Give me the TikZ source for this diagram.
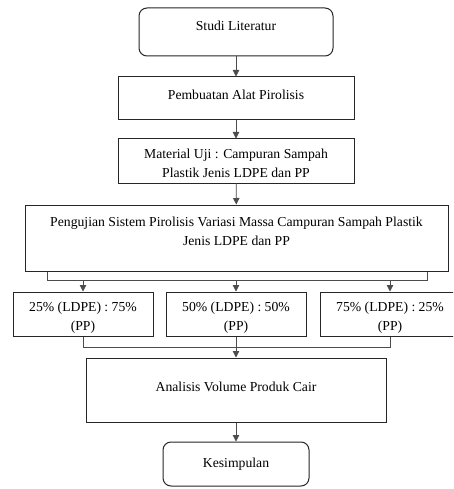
\documentclass[tikz,border=0pt]{standalone}
\usepackage{fontspec}
\setmainfont{Liberation Serif}
\usetikzlibrary{arrows.meta}
\begin{document}
\begin{tikzpicture}[x=1pt,y=-1pt,
  font=\fontsize{13.7}{18.5}\selectfont,
  box/.style={draw=black!85, line width=1pt, inner sep=0pt},
  rbox/.style={box, rounded corners=8pt},
  conn/.style={draw=black!70, line width=0.8pt},
  arr/.style={conn, -{Triangle[width=6.5pt,length=6.5pt]}}]
\clip (0,0) rectangle (453,489);
\fill[white] (0,0) rectangle (453,489);
% nodes
\node[rbox, minimum width=194, minimum height=48, text height=22.5pt, text depth=25.5pt] (studi) at (236,32) {Studi Literatur};
\node[box, minimum width=236, minimum height=43, text height=12pt, text depth=9pt] (pemb) at (236,98.5) {Pembuatan Alat Pirolisis};
\node[box, minimum width=236, minimum height=44, text height=20pt, text depth=6.2pt] (mat) at (236,161) {\begin{tabular}{@{}c@{}}Material Uji : Campuran Sampah\\Plastik Jenis LDPE dan PP\end{tabular}};
\node[box, minimum width=423, minimum height=66, text height=10pt, text depth=14.2pt] (peng) at (236.5,238) {\begin{tabular}{@{}c@{}}Pengujian Sistem Pirolisis Variasi Massa Campuran Sampah Plastik\\Jenis LDPE dan PP\end{tabular}};
\node[box, minimum width=140, minimum height=44, text height=20pt, text depth=6.2pt] (b1) at (83,314) {\begin{tabular}{@{}c@{}}25\% (LDPE) : 75\%\\(PP)\end{tabular}};
\node[box, minimum width=140, minimum height=44, text height=20pt, text depth=6.2pt] (b2) at (236,314) {\begin{tabular}{@{}c@{}}50\% (LDPE) : 50\%\\(PP)\end{tabular}};
\node[box, minimum width=140, minimum height=44, text height=20pt, text depth=6.2pt] (b3) at (390,314) {\begin{tabular}{@{}c@{}}75\% (LDPE) : 25\%\\(PP)\end{tabular}};
\node[box, minimum width=300, minimum height=64, text height=12pt, text depth=9pt] (anal) at (236,390) {Analisis Volume Produk Cair};
\node[rbox, minimum width=146, minimum height=44] (kes) at (236,464) {Kesimpulan};
% coordinates
\coordinate (tl) at (47,280);
\coordinate (tr) at (427,280);
\coordinate (bl) at (83,347);
\coordinate (br) at (390,347);
% connectors
\draw[arr] (studi) -- (pemb);
\draw[arr] (pemb) -- (mat);
\draw[arr] (mat) -- (peng);
\draw[conn] (peng.south -| tl) -- (tl) -- (tr) -- (peng.south -| tr);
\draw[arr] (tl -| b1.north) -- (b1.north);
\draw[arr] (tl -| b2.north) -- (b2.north);
\draw[arr] (tl -| b3.north) -- (b3.north);
\draw[conn] (b1.south) -- (bl) -- (br) -- (b3.south);
\draw[conn] (b2.south) -- (bl -| b2.south);
\draw[arr] (bl -| anal.north) -- (anal.north);
\draw[arr] (anal) -- (kes);
\end{tikzpicture}
\end{document}
